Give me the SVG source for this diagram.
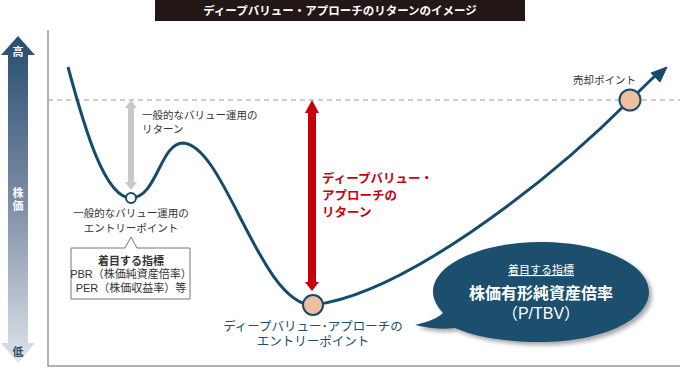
<svg xmlns="http://www.w3.org/2000/svg" width="680" height="371" viewBox="0 0 680 371">
<defs>
<linearGradient id="axg" x1="0" y1="0" x2="0" y2="1">
<stop offset="0" stop-color="#264d70"/>
<stop offset="0.5" stop-color="#7c8ca4"/>
<stop offset="1" stop-color="#dfe3ea"/>
</linearGradient>
<filter id="sh" x="-10%" y="-10%" width="130%" height="140%">
<feGaussianBlur in="SourceAlpha" stdDeviation="2"/>
<feOffset dx="3" dy="3"/>
<feComponentTransfer><feFuncA type="linear" slope="0.35"/></feComponentTransfer>
<feMerge><feMergeNode/><feMergeNode in="SourceGraphic"/></feMerge>
</filter>
</defs>
<style>
text{font-family:"Liberation Sans","Noto Sans CJK JP",sans-serif;}
.t{font-size:10.5px;fill:#333;}
.w{fill:#fff;font-weight:bold;font-size:11px;}
.red{fill:#c8000b;font-weight:bold;font-size:12.5px;}
.blue{fill:#1b4d6d;font-size:12.5px;}
.curve{fill:none;stroke:#174b6b;stroke-width:3;}
</style>
<rect width="680" height="371" fill="#fff"/>
<g id="title">
<rect x="155" y="0" width="370" height="21" fill="#231815"/>
<text x="340" y="15" text-anchor="middle" class="w" style="font-size:11.5px">ディープバリュー・アプローチのリターンのイメージ</text>
</g>
<g id="axis">
<polygon points="18,36 35,55 28,55 28,343 35,343 18,363 1,343 8,343 8,55 1,55" fill="url(#axg)"/>
<text x="18" y="56" text-anchor="middle" class="w">高</text>
<text x="18" y="197" text-anchor="middle" class="w">株</text>
<text x="18" y="210" text-anchor="middle" class="w">価</text>
<text x="18" y="356" text-anchor="middle" class="w" style="fill:#2b4d6d">低</text>
<path d="M48,30 V366 H680" fill="none" stroke="#999" stroke-width="1.5"/>
<line x1="48" y1="100" x2="680" y2="100" stroke="#999" stroke-width="1" stroke-dasharray="5,4"/>
</g>
<g id="connectors">
<path class="curve" d="M68,67 C85,130 105,198 131,198 C157,198 160,143 183,143 C225,145 260,305 313,305 C400,295 540,190 630,100 L658,73"/>
<polygon points="667,67 660,82 651,73" fill="#174b6b" stroke="#174b6b" stroke-width="1" stroke-linejoin="round"/>
<polygon points="131,100 137,108 134,108 134,182 137,182 131,190 125,182 128,182 128,108 125,108" fill="#c8c8c8"/>
<polygon points="312,100 319,113 316,113 316,282 319,282 312,291 305,282 308,282 308,113 305,113" fill="#c8000b"/>
</g>
<g id="general-entry">
<circle cx="131" cy="198" r="5" fill="#fff" stroke="#174b6b" stroke-width="2"/>
<text x="131" y="217" text-anchor="middle" class="t">一般的なバリュー運用の</text>
<text x="131" y="232" text-anchor="middle" class="t">エントリーポイント</text>
</g>
<g id="general-return">
<text x="142" y="119" class="t">一般的なバリュー運用の</text>
<text x="142" y="133" class="t">リターン</text>
</g>
<g id="indicator-box">
<path d="M71,248 H125 L131,237 L137,248 H190 V299 H71 Z" fill="#fff" stroke="#777" stroke-width="1"/>
<text x="131" y="265" text-anchor="middle" class="t" style="font-weight:bold;font-size:11px">着目する指標</text>
<text x="131" y="278" text-anchor="middle" class="t" style="font-size:11px">PBR（株価純資産倍率）</text>
<text x="131" y="292" text-anchor="middle" class="t" style="font-size:11px">PER（株価収益率）等</text>
</g>
<g id="deep-return">
<text x="322" y="183" class="red">ディープバリュー・</text>
<text x="322" y="200" class="red">アプローチの</text>
<text x="322" y="217" class="red">リターン</text>
</g>
<g id="deep-entry">
<circle cx="313" cy="305" r="10" fill="#f0bfa1" stroke="#174b6b" stroke-width="2"/>
<text x="313" y="331" text-anchor="middle" class="blue">ディープバリュー･アプローチの</text>
<text x="313" y="346" text-anchor="middle" class="blue">エントリーポイント</text>
</g>
<g id="sell">
<circle cx="630" cy="100" r="10.5" fill="#f0bfa1" stroke="#174b6b" stroke-width="2"/>
<text x="573" y="84" class="t">売却ポイント</text>
</g>
<g id="bubble">
<path filter="url(#sh)" fill="#1c4f6e" d="M415,325 C428,322 438,318 443,313 C436,305 433,298 433,292 C433,264 481,242 541,242 C601,242 649,264 649,292 C649,320 601,342 541,342 C505,342 475,337 455,328 C442,330 428,328 415,325 Z"/>
<text x="541" y="274" text-anchor="middle" fill="#fff" font-size="11" text-decoration="underline">着目する指標</text>
<text x="541" y="299" text-anchor="middle" fill="#fff" font-size="16" font-weight="bold">株価有形純資産倍率</text>
<text x="541" y="319" text-anchor="middle" fill="#fff" font-size="16">（P/TBV）</text>
</g>
</svg>
